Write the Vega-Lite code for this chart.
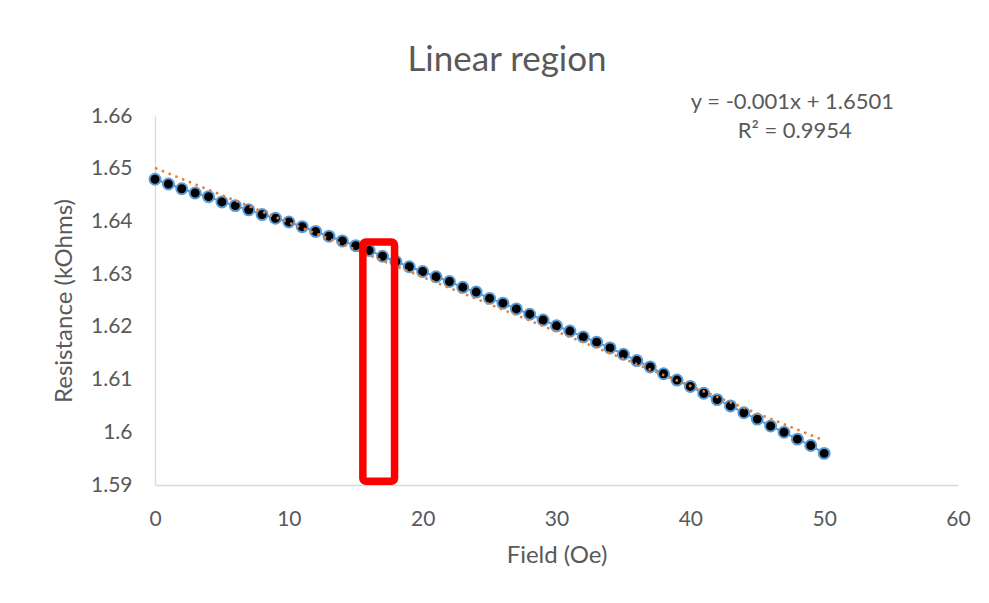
{
  "$schema": "https://vega.github.io/schema/vega-lite/v6.json",
  "width": 803,
  "height": 369,
  "autosize": {"type": "none"},
  "padding": {"left": 155, "top": 116, "right": 31, "bottom": 118},
  "background": "white",
  "datasets": {
    "measurements": [
      {"H": 0, "R": 1.6480}, {"H": 1, "R": 1.6471}, {"H": 2, "R": 1.6462}, {"H": 3, "R": 1.6454},
      {"H": 4, "R": 1.6447}, {"H": 5, "R": 1.6437}, {"H": 6, "R": 1.6430}, {"H": 7, "R": 1.6422},
      {"H": 8, "R": 1.6413}, {"H": 9, "R": 1.6406}, {"H": 10, "R": 1.6399}, {"H": 11, "R": 1.6390},
      {"H": 12, "R": 1.6381}, {"H": 13, "R": 1.6372}, {"H": 14, "R": 1.6363}, {"H": 15, "R": 1.6354},
      {"H": 16, "R": 1.6345}, {"H": 17, "R": 1.6334}, {"H": 18, "R": 1.6324}, {"H": 19, "R": 1.6314},
      {"H": 20, "R": 1.6305}, {"H": 21, "R": 1.6295}, {"H": 22, "R": 1.6286}, {"H": 23, "R": 1.6275},
      {"H": 24, "R": 1.6266}, {"H": 25, "R": 1.6254}, {"H": 26, "R": 1.6245}, {"H": 27, "R": 1.6234},
      {"H": 28, "R": 1.6224}, {"H": 29, "R": 1.6213}, {"H": 30, "R": 1.6202}, {"H": 31, "R": 1.6192},
      {"H": 32, "R": 1.6181}, {"H": 33, "R": 1.6171}, {"H": 34, "R": 1.6160}, {"H": 35, "R": 1.6148},
      {"H": 36, "R": 1.6136}, {"H": 37, "R": 1.6124}, {"H": 38, "R": 1.6111}, {"H": 39, "R": 1.6099},
      {"H": 40, "R": 1.6087}, {"H": 41, "R": 1.6074}, {"H": 42, "R": 1.6062}, {"H": 43, "R": 1.6050},
      {"H": 44, "R": 1.6037}, {"H": 45, "R": 1.6025}, {"H": 46, "R": 1.6012}, {"H": 47, "R": 1.6000},
      {"H": 48, "R": 1.5987}, {"H": 49, "R": 1.5975}, {"H": 50, "R": 1.5960}
    ],
    "highlight": [{"H1": 15.53, "H2": 17.9, "R1": 1.6361, "R2": 1.5907}],
    "notes": [
      {"H": 47.63, "R": 1.66266, "label": "y = -0.001x + 1.6501"},
      {"H": 47.8, "R": 1.65715, "label": "R² = 0.9954"}
    ]
  },
  "title": {
    "text": "Linear region",
    "font": "Lato",
    "fontSize": 35,
    "fontWeight": "normal",
    "color": "#595959",
    "frame": "group",
    "anchor": "middle",
    "dx": -49.5,
    "offset": 13
  },
  "config": {
    "view": {"stroke": null},
    "axis": {
      "domainColor": "#D9D9D9",
      "domainWidth": 1.3,
      "ticks": false,
      "grid": false,
      "labelFont": "Lato",
      "labelFontSize": 21,
      "labelColor": "#595959",
      "labelFlush": false,
      "labelOverlap": false,
      "labelBound": false,
      "titleFont": "Lato",
      "titleFontSize": 24,
      "titleFontWeight": "normal",
      "titleColor": "#595959"
    }
  },
  "layer": [
    {
      "data": {"name": "measurements"},
      "mark": {"type": "line", "color": "#5B9BD5", "strokeWidth": 2},
      "encoding": {
        "x": {"field": "H", "type": "quantitative", "title": "Field (Oe)",
              "scale": {"domain": [0, 60], "nice": false},
              "axis": {"values": [0, 10, 20, 30, 40, 50, 60], "labelPadding": 23, "titlePadding": 14}},
        "y": {"field": "R", "type": "quantitative", "title": "Resistance (kOhms)",
              "scale": {"domain": [1.59, 1.66], "nice": false, "zero": false},
              "axis": {"values": [1.59, 1.6, 1.61, 1.62, 1.63, 1.64, 1.65, 1.66], "format": ".3~r", "labelPadding": 23, "titlePadding": 14}}
      }
    },
    {
      "data": {"name": "measurements"},
      "mark": {"type": "point", "filled": true, "fill": "#000000", "stroke": "#5B9BD5", "strokeWidth": 2, "size": 120, "opacity": 1},
      "encoding": {
        "x": {"field": "H", "type": "quantitative", "title": "Field (Oe)"},
        "y": {"field": "R", "type": "quantitative", "title": "Resistance (kOhms)"}
      }
    },
    {
      "data": {"name": "measurements"},
      "transform": [{"regression": "R", "on": "H", "method": "linear"}],
      "mark": {"type": "line", "color": "#ED7D31", "strokeWidth": 2.5, "strokeDash": [2.5, 4.8]},
      "encoding": {
        "x": {"field": "H", "type": "quantitative", "title": "Field (Oe)"},
        "y": {"field": "R", "type": "quantitative", "title": "Resistance (kOhms)"}
      }
    },
    {
      "data": {"name": "highlight"},
      "mark": {"type": "rect", "fill": null, "fillOpacity": 0, "stroke": "#FF0000", "strokeWidth": 7.5, "cornerRadius": 3},
      "encoding": {
        "x": {"field": "H1", "type": "quantitative", "title": "Field (Oe)"},
        "x2": {"field": "H2"},
        "y": {"field": "R1", "type": "quantitative", "title": "Resistance (kOhms)"},
        "y2": {"field": "R2"}
      }
    },
    {
      "data": {"name": "notes"},
      "mark": {"type": "text", "font": "Lato", "fontSize": 22, "color": "#595959", "align": "center", "baseline": "middle"},
      "encoding": {
        "x": {"field": "H", "type": "quantitative", "title": "Field (Oe)"},
        "y": {"field": "R", "type": "quantitative", "title": "Resistance (kOhms)"},
        "text": {"field": "label"}
      }
    }
  ]
}
